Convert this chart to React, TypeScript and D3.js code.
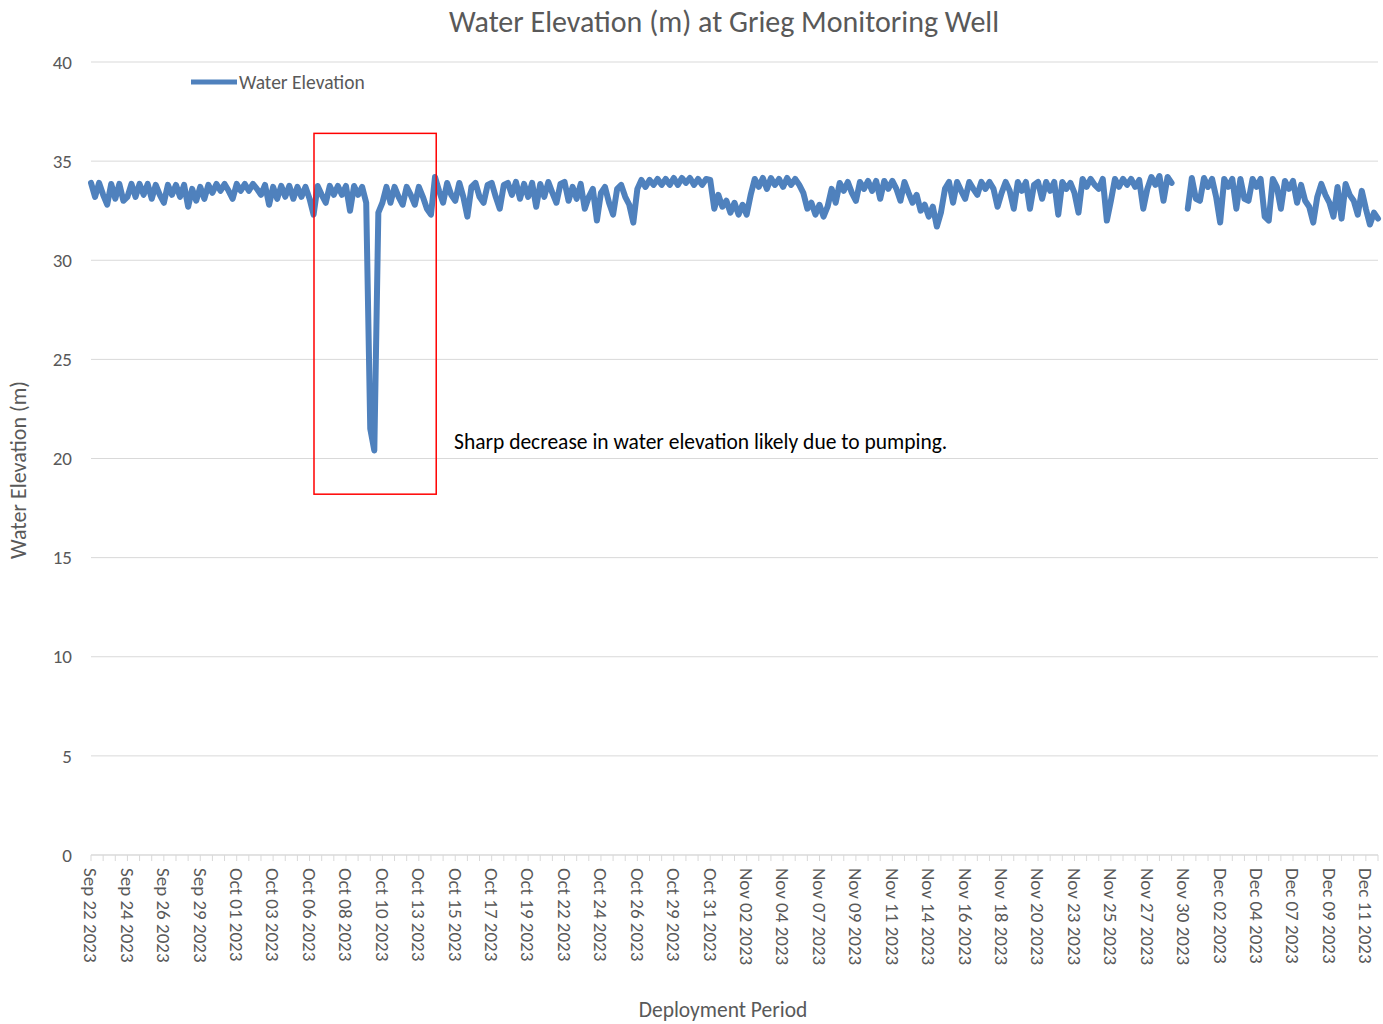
import React from 'react';
import * as d3 from 'd3';

// x axis category labels (one every 9 readings)
const tickLabels = [
  'Sep 22 2023', 'Sep 24 2023', 'Sep 26 2023', 'Sep 29 2023', 'Oct 01 2023', 'Oct 03 2023',
  'Oct 06 2023', 'Oct 08 2023', 'Oct 10 2023', 'Oct 13 2023', 'Oct 15 2023', 'Oct 17 2023',
  'Oct 19 2023', 'Oct 22 2023', 'Oct 24 2023', 'Oct 26 2023', 'Oct 29 2023', 'Oct 31 2023',
  'Nov 02 2023', 'Nov 04 2023', 'Nov 07 2023', 'Nov 09 2023', 'Nov 11 2023', 'Nov 14 2023',
  'Nov 16 2023', 'Nov 18 2023', 'Nov 20 2023', 'Nov 23 2023', 'Nov 25 2023', 'Nov 27 2023',
  'Nov 30 2023', 'Dec 02 2023', 'Dec 04 2023', 'Dec 07 2023', 'Dec 09 2023', 'Dec 11 2023',
];

// water elevation readings (m)
const elevationSepOct = [
  33.9, 33.2, 33.9, 33.3, 32.8, 33.85, 33.1, 33.85, 33.0,
  33.2, 33.85, 33.2, 33.85, 33.3, 33.85, 33.1, 33.8, 33.3,
  32.9, 33.8, 33.3, 33.8, 33.2, 33.8, 32.7, 33.6, 33.0,
  33.7, 33.1, 33.8, 33.4, 33.85, 33.5, 33.85, 33.5, 33.1,
  33.85, 33.5, 33.85, 33.5, 33.85, 33.6, 33.3, 33.8, 32.8,
  33.7, 33.1, 33.75, 33.2, 33.75, 33.1, 33.7, 33.2, 33.7,
  33.1, 32.3, 33.75, 33.3, 32.9, 33.75, 33.3, 33.75, 33.3,
  33.75, 32.5, 33.75, 33.3, 33.7, 32.9, 21.5, 20.4, 32.4,
  32.9, 33.7, 32.9, 33.7, 33.2, 32.8, 33.7, 33.3, 32.8,
  33.7, 33.2, 32.6, 32.3, 34.2, 33.5, 32.9, 33.9, 33.3,
  33.0, 33.9, 33.2, 32.2, 33.7, 33.9, 33.2, 32.9, 33.8,
  33.9, 33.2, 32.6, 33.8, 33.9, 33.3, 33.95, 33.1, 33.85,
];
const elevationOctNov = [
  33.2, 33.9, 32.7, 33.85, 33.2, 33.95, 33.4, 32.9, 33.85,
  33.95, 33.0, 33.7, 33.1, 33.85, 32.6, 33.2, 33.6, 32.0,
  33.4, 33.7, 32.9, 32.3, 33.6, 33.8, 33.2, 32.8, 31.9,
  33.6, 34.05, 33.7, 34.05, 33.8, 34.1, 33.8, 34.1, 33.8,
  34.15, 33.8, 34.15, 33.9, 34.15, 33.8, 34.1, 33.8, 34.1,
  34.05, 32.6, 33.3, 32.7, 33.0, 32.4, 32.9, 32.3, 32.8,
  32.3, 33.3, 34.1, 33.7, 34.15, 33.6, 34.15, 33.8, 34.1,
  33.7, 34.15, 33.8, 34.1, 33.8, 33.4, 32.6, 32.9, 32.3,
  32.8, 32.2, 32.7, 33.6, 32.9, 33.9, 33.5, 33.95, 33.4,
  33.0, 33.95, 33.6, 34.0, 33.5, 34.0, 33.1, 34.0, 33.6,
  34.0, 33.6, 33.0, 33.95, 33.4, 32.9, 33.3, 32.5, 32.8,
  32.2, 32.7, 31.7, 32.4, 33.6, 33.95, 32.9, 33.95, 33.5,
];
const elevationNovDec = [
  33.1, 33.95, 33.6, 33.3, 33.95, 33.6, 33.95, 33.6, 32.7,
  33.4, 33.95, 33.5, 32.6, 33.95, 33.5, 33.95, 32.6, 33.8,
  33.95, 33.1, 33.95, 33.5, 33.95, 32.3, 33.95, 33.6, 33.9,
  33.4, 32.4, 34.1, 33.7, 34.1, 33.8, 33.6, 34.1, 32.0,
  33.0, 34.1, 33.7, 34.1, 33.8, 34.1, 33.7, 34.05, 32.6,
  33.6, 34.2, 33.8, 34.25, 33.0, 34.2, 33.9, null, null,
  null, 32.6, 34.15, 33.1, 33.0, 34.15, 33.7, 34.1, 33.2,
  31.9, 34.1, 33.7, 34.1, 32.6, 34.1, 33.1, 33.0, 34.1,
  33.7, 34.1, 32.2, 32.0, 34.1, 33.7, 32.6, 34.0, 33.6,
  34.0, 32.9, 33.8, 33.0, 32.7, 31.9, 33.2, 33.85, 33.3,
  32.9, 32.2, 33.7, 32.1, 33.85, 33.3, 33.0, 32.3, 33.5,
  32.6, 31.8, 32.4, 32.1,
];

const elevation: (number | null)[] = [...elevationSepOct, ...elevationOctNov, ...elevationNovDec];
const yTicks = [0, 5, 10, 15, 20, 25, 30, 35, 40];

// pumping annotation, in data units
const annotation = { i0: 55.1, i1: 85.3, top: 36.4, bottom: 18.2 };

const FONT = 'Carlito, Lato, sans-serif';
const GRAY = '#595959';
const BLUE = '#4f81bd';

export default function App() {
  const width = 1383;
  const height = 1024;
  const plotLeft = 91;
  const plotRight = 1378;
  const plotTop = 62;
  const plotBottom = 855;

  const x = d3.scaleLinear().domain([0, elevation.length - 1]).range([plotLeft, plotRight]);
  const y = d3.scaleLinear().domain([0, 40]).range([plotBottom, plotTop]);

  const line = d3
    .line<number | null>()
    .defined((d) => d != null)
    .x((d, i) => x(i))
    .y((d) => y(d as number));

  const minorTicks = d3.range(0, elevation.length, 3);

  return (
    <svg
      width={width}
      height={height}
      style={{ position: 'absolute', left: 0, top: 0, background: '#fff' }}
      fontFamily={FONT}
    >
      {/* title */}
      <text x={724} y={32} textAnchor="middle" fontSize={30} fill={GRAY}>
        Water Elevation (m) at Grieg Monitoring Well
      </text>

      {/* gridlines + y labels */}
      {yTicks.map((t) => (
        <g key={t}>
          <line x1={plotLeft} x2={plotRight} y1={y(t)} y2={y(t)} stroke="#d9d9d9" strokeWidth={1} />
          <text x={72} y={y(t)} dy="0.35em" textAnchor="end" fontSize={19} fill={GRAY}>
            {t}
          </text>
        </g>
      ))}

      {/* x axis */}
      <line x1={plotLeft} x2={plotRight} y1={plotBottom} y2={plotBottom} stroke="#d9d9d9" strokeWidth={1} />
      {minorTicks.map((i) => (
        <line key={i} x1={x(i)} x2={x(i)} y1={plotBottom} y2={plotBottom + 6} stroke="#d9d9d9" strokeWidth={1} />
      ))}
      {tickLabels.map((lab, k) => (
        <text
          key={lab}
          transform={`translate(${x(k * 9)},${plotBottom + 13}) rotate(90)`}
          dy="0.35em"
          fontSize={19}
          fill={GRAY}
        >
          {lab}
        </text>
      ))}

      {/* axis titles */}
      <text x={723} y={1017} textAnchor="middle" fontSize={21.5} fill={GRAY}>
        Deployment Period
      </text>
      <text transform="translate(26,470) rotate(-90)" textAnchor="middle" fontSize={22} fill={GRAY}>
        Water Elevation (m)
      </text>

      {/* series */}
      <path d={line(elevation) || ''} fill="none" stroke={BLUE} strokeWidth={6} strokeLinejoin="round" strokeLinecap="round" />

      {/* legend */}
      <line x1={191} x2={237} y1={82} y2={82} stroke={BLUE} strokeWidth={5} />
      <text x={239} y={82} dy="0.35em" fontSize={19.5} fill={GRAY}>
        Water Elevation
      </text>

      {/* annotation */}
      <rect
        x={x(annotation.i0)}
        y={y(annotation.top)}
        width={x(annotation.i1) - x(annotation.i0)}
        height={y(annotation.bottom) - y(annotation.top)}
        fill="none"
        stroke="#ff0000"
        strokeWidth={1.5}
      />
      <text x={454} y={y(20.5)} fontSize={21.5} fill="#000">
        Sharp decrease in water elevation likely due to pumping.
      </text>
    </svg>
  );
}
